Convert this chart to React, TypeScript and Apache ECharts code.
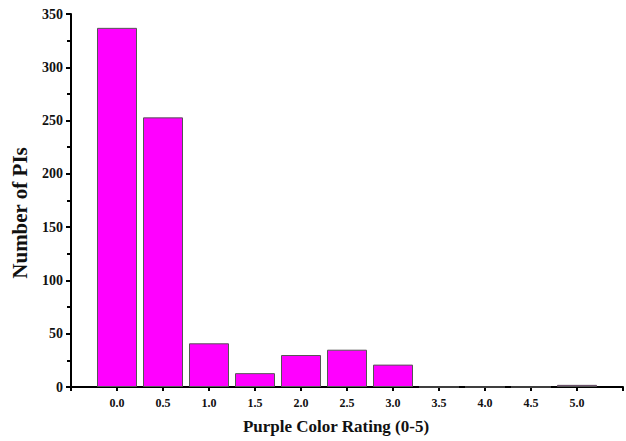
import React, { useEffect, useRef } from "react";
import * as echarts from "echarts";

// Purple colour rating bins (0-5 in half steps) and number of PIs in each
const ratings = [0, 0.5, 1.0, 1.5, 2.0, 2.5, 3.0, 3.5, 4.0, 4.5, 5.0];
const counts = [337, 253, 41, 13, 30, 35, 21, 0, 0, 0, 2];

const yTicks = { min: 0, max: 350, step: 50 };
const xTitle = "Purple Color Rating (0-5)";
const yTitle = "Number of PIs";

const SERIF = "'Liberation Serif', 'Times New Roman', serif";

export default function App() {
  const ref = useRef<HTMLDivElement>(null);

  useEffect(() => {
    if (!ref.current) return;
    const chart = echarts.init(ref.current, undefined, { renderer: "svg" });
    const axisColor = "#000";
    chart.setOption({
      animation: false,
      backgroundColor: "#ffffff",
      grid: { left: 71, top: 14, right: -1.5, bottom: 54 },
      xAxis: {
        type: "value",
        min: -0.5,
        max: 5.5,
        interval: 0.5,
        axisLine: { show: true, onZero: false, lineStyle: { color: axisColor, width: 2 } },
        axisTick: { show: true, inside: false, length: 4, lineStyle: { color: axisColor, width: 2 } },
        splitLine: { show: false },
        axisLabel: {
          margin: 10,
          color: "#111",
          fontFamily: SERIF,
          fontWeight: "bold",
          fontSize: 12,
          showMinLabel: true,
          showMaxLabel: true,
          formatter: (v: number) => (v < 0 || v > 5 ? "" : v.toFixed(1)),
        },
      },
      yAxis: {
        type: "value",
        min: yTicks.min,
        max: yTicks.max,
        interval: yTicks.step,
        axisLine: { show: true, onZero: false, lineStyle: { color: axisColor, width: 2 } },
        axisTick: { show: true, inside: false, length: 5, lineStyle: { color: axisColor, width: 2 } },
        minorTick: { show: true, splitNumber: 2, length: 4, lineStyle: { color: axisColor, width: 2 } },
        splitLine: { show: false },
        axisLabel: {
          margin: 8,
          color: "#111",
          fontFamily: SERIF,
          fontWeight: "bold",
          fontSize: 14,
        },
      },
      series: [
        {
          type: "bar",
          data: ratings.map((r, i) => [r, counts[i]]),
          barWidth: 40,
          itemStyle: { color: "#ff00ff", borderColor: "#555555", borderWidth: 1 },
        },
      ],
      graphic: [
        {
          type: "text",
          x: 336,
          y: 426,
          style: {
            text: xTitle,
            fill: "#111",
            font: `bold 17px ${SERIF}`,
            align: "center",
            verticalAlign: "middle",
          },
        },
        {
          type: "text",
          x: 20,
          y: 213,
          rotation: Math.PI / 2,
          style: {
            text: yTitle,
            fill: "#111",
            font: `bold 21px ${SERIF}`,
            align: "center",
            verticalAlign: "middle",
          },
        },
      ],
    });
    return () => chart.dispose();
  }, []);

  return (
    <div
      ref={ref}
      style={{ position: "fixed", left: 0, top: 0, width: 626, height: 441 }}
    />
  );
}
